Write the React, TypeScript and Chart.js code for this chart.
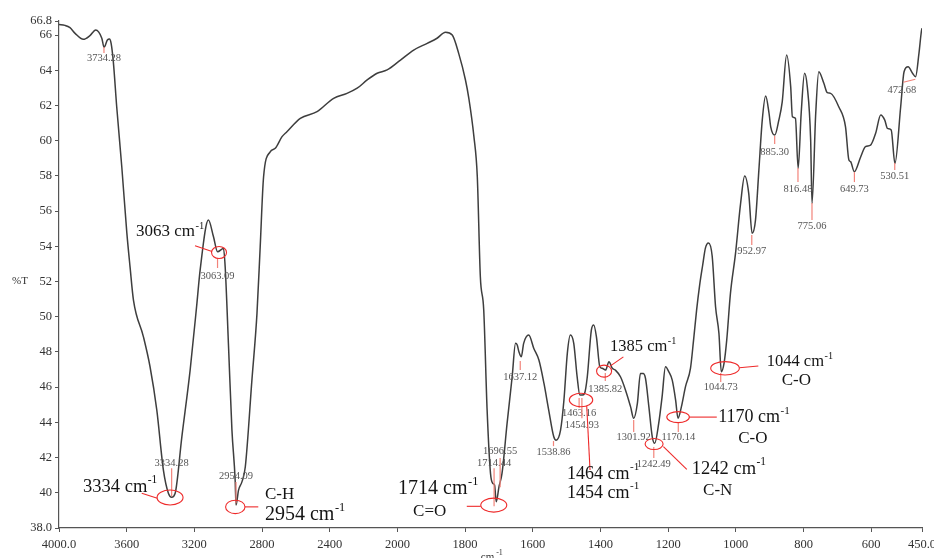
import React, { useEffect, useRef } from 'react';
import { Chart, registerables } from 'chart.js';

Chart.register(...registerables);

// ---- Data (wavenumber cm-1, %T) ----
const wavenumbers = [
  4000, 3965, 3935, 3905, 3856, 3817, 3783, 3747, 3734, 3714, 3702, 3692, 3679, 3659, 3629, 3599, 3580, 3560,
  3501, 3462, 3422, 3383, 3353, 3334, 3314, 3274, 3225, 3185, 3166, 3117, 3087, 3063, 3028, 3018, 2998, 2978,
  2959, 2954, 2939, 2919, 2899, 2860, 2830, 2811, 2791, 2752, 2722, 2682, 2653, 2574, 2475, 2377, 2298, 2238,
  2179, 2120, 2061, 1991, 1952, 1912, 1883, 1858, 1838, 1819, 1799, 1789, 1774, 1764, 1755, 1745, 1735, 1725,
  1718, 1713, 1708, 1700, 1691, 1676, 1661, 1651, 1646, 1641, 1634, 1627, 1612, 1597, 1582, 1567, 1553, 1538,
  1531, 1518, 1508, 1498, 1489, 1479, 1469, 1461, 1454, 1447, 1439, 1427, 1420, 1412, 1402, 1395, 1385, 1375,
  1365, 1356, 1341, 1326, 1311, 1302, 1291, 1282, 1274, 1267, 1257, 1247, 1240, 1228, 1218, 1208, 1198, 1188,
  1178, 1171, 1161, 1149, 1134, 1125, 1116, 1107, 1098, 1090, 1081, 1070, 1060, 1050, 1043, 1035, 1027, 1016,
  1001, 986, 974, 962, 952, 942, 932, 922, 912, 902, 897, 885, 873, 863, 850, 838, 833, 824, 816, 807, 797, 789,
  779, 775, 764, 755, 740, 730, 720, 696, 676, 666, 661, 650, 631, 617, 602, 587, 572, 560, 552, 541, 530, 513,
  503, 491, 478, 469, 459, 452, 450,
];
const transmittance = [
  66.6, 66.55, 66.42, 66.1, 65.76, 65.97, 66.29, 65.82, 65.31, 65.72, 65.78, 65.53, 64.49, 61.93, 58.52, 54.75, 52.82, 50.95,
  48.86, 47.16, 44.7, 41.29, 39.96, 39.75, 39.96, 43.18, 46.97, 50.76, 52.65, 55.49, 54.54, 53.69, 53.88, 52.84, 48.29, 43.56,
  40.72, 39.3, 40.15, 40.62, 41.48, 46.4, 50.19, 53.98, 57.95, 59.37, 59.57, 60.23, 60.51, 61.27, 61.65, 62.41, 62.69, 62.98,
  63.45, 63.83, 64.02, 64.58, 65.15, 65.53, 65.82, 66.16, 66.0, 64.96, 63.45, 62.41, 60.23, 57.95, 52.27, 50.38, 44.7, 41.1,
  40.53, 40.44, 39.49, 40.34, 41.1, 43.94, 46.59, 48.49, 48.39, 48.01, 47.73, 48.49, 48.96, 48.2, 47.54, 46.21, 44.7, 43.18,
  42.99, 43.56, 45.27, 47.92, 48.96, 48.49, 46.59, 45.55, 45.55, 45.65, 46.59, 49.24, 49.53, 48.86, 47.16, 47.07, 46.97, 47.44,
  47.07, 46.97, 46.59, 45.83, 44.88, 44.23, 45.08, 46.78, 46.78, 46.5, 44.88, 43.18, 42.81, 43.94, 45.45, 47.16, 46.87, 46.4,
  45.27, 44.23, 44.88, 46.02, 47.08, 48.67, 50.38, 51.8, 52.94, 53.9, 54.19, 53.45, 50.57, 49.05, 46.87, 47.35, 48.67, 51.33,
  53.6, 56.44, 57.99, 57.01, 54.74, 55.49, 58.33, 61.17, 62.54, 61.56, 60.79, 60.32, 61.17, 62.21, 64.87, 63.07, 61.36, 61.27, 58.43, 61.56, 63.83, 63.07,
  60.04, 56.44, 61.56, 63.92, 63.26, 62.73, 62.69, 61.93, 60.79, 58.9, 58.81, 58.24, 59.09, 59.66, 59.75, 60.42, 61.46, 61.17, 60.7, 60.61, 58.71, 61.93,
  63.92, 64.2, 63.83, 63.64, 64.96, 66.19, 66.39,
];

const xTickValues = [4000, 3600, 3200, 2800, 2400, 2000, 1800, 1600, 1400, 1200, 1000, 800, 600, 450];
const xTickLabels = ['4000.0', '3600', '3200', '2800', '2400', '2000', '1800', '1600', '1400', '1200', '1000', '800', '600', '450.0'];
const yTickValues = [38, 40, 42, 44, 46, 48, 50, 52, 54, 56, 58, 60, 62, 64, 66, 66.8];
const yTickLabels = ['38.0', '40', '42', '44', '46', '48', '50', '52', '54', '56', '58', '60', '62', '64', '66', '66.8'];

const peakWavenumbers = [3734.28, 3334.28, 3063.09, 2954.09, 1714.44, 1696.55, 1637.12, 1538.86, 1463.16, 1454.93, 1385.82,
  1301.92, 1242.49, 1170.14, 1044.73, 952.97, 885.30, 816.48, 775.06, 649.73, 530.51, 472.68];
const peakLabels = ['3734.28', '3334.28', '3063.09', '2954.09', '1714.44', '1696.55', '1637.12', '1538.86', '1463.16', '1454.93',
  '1385.82', '1301.92', '1242.49', '1170.14', '1044.73', '952.97', '885.30', '816.48', '775.06', '649.73', '530.51', '472.68'];

// layout of the small peak labels (in %T units), not data
const peakLabelLayout = [
  { from: 65.32, to: 64.98, text: 64.7 },
  { from: 41.4, to: 39.8, text: 41.69 },
  { from: 53.33, to: 52.77, text: 52.31 },
  { from: 40.61, to: 39.41, text: 40.95 },
  { from: 41.4, to: 39.24, text: 41.69 },
  { from: 41.97, to: 40.32, text: 42.37 },
  { from: 47.48, to: 46.97, text: 46.57 },
  { from: 42.94, to: 42.65, text: 42.31 },
  { from: 45.38, to: 44.81, text: 44.53 },
  { from: 45.38, to: 44.24, text: 43.84 },
  { from: 46.8, to: 46.35, text: 45.89 },
  { from: 44.13, to: 43.45, text: 43.16 },
  { from: 42.6, to: 41.97, text: 41.63 },
  { from: 43.96, to: 43.45, text: 43.16 },
  { from: 46.8, to: 46.29, text: 45.99 },
  { from: 54.64, to: 54.07, text: 53.73 },
  { from: 60.27, to: 59.81, text: 59.36 },
  { from: 58.45, to: 57.65, text: 57.25 },
  { from: 56.46, to: 55.49, text: 55.15 },
  { from: 58.22, to: 57.65, text: 57.25 },
  { from: 58.73, to: 58.33, text: 57.99 },
  { from: 63.32, to: 63.49, text: 62.88, dx1: -11, dx2: 1, tdx: -12.5 },
];

// band assignment callouts (anchor in data units, offsets in px)
const callouts = [
  { w: 3063.09, t: 53.65, ex: 1.5, rx: 7.5, ry: 6, line: [-22.5, -6.8, -5.5, -1], texts: [{ s: '3063', cm: true, dx: -81.5, dy: -20.5, size: 17 }] },
  { w: 3334.28, t: 39.73, ex: -1.6, rx: 13, ry: 7.5, line: [-29.9, -4.2, -14.3, 0.8], texts: [{ s: '3334', cm: true, dx: -88.6, dy: -10.5, size: 18.5 }] },
  { w: 2954.09, t: 39.2, ex: -0.7, rx: 9.7, ry: 6.7, line: [9, 0, 22.3, 0], texts: [{ s: 'C-H', dx: 29, dy: -12.7, size: 17 }, { s: '2954', cm: true, dx: 29, dy: 8.3, size: 20 }] },
  { w: 1714.44, t: 39.3, ex: -0.3, rx: 13, ry: 7, line: [-27.3, 1.2, -13.3, 1.2], texts: [{ s: '1714', cm: true, dx: -96, dy: -16, size: 20 }, { s: 'C=O', dx: -81, dy: 6, size: 17 }] },
  { w: 1459, t: 45.27, ex: 0.5, rx: 11.7, ry: 6.7, line: [6.2, 6, 9.5, 70], texts: [{ s: '1464', cm: true, dx: -13.5, dy: 74, size: 18 }, { s: '1454', cm: true, dx: -13.5, dy: 93, size: 18 }] },
  { w: 1385.82, t: 46.91, ex: -1.2, rx: 7.5, ry: 6, line: [4.8, -5, 18.1, -14.3], texts: [{ s: '1385', cm: true, dx: 4.8, dy: -24, size: 16.5 }] },
  { w: 1242.49, t: 42.77, ex: 0.3, rx: 9, ry: 5.5, line: [9.6, 2.7, 33, 25.3], texts: [{ s: '1242', cm: true, dx: 38, dy: 25, size: 18.5 }, { s: 'C-N', dx: 49.3, dy: 47, size: 17 }] },
  { w: 1170.14, t: 44.3, ex: -0.2, rx: 11.3, ry: 5.5, line: [11.1, 0, 38.5, 0], texts: [{ s: '1170', cm: true, dx: 40, dy: 0, size: 18 }, { s: 'C-O', dx: 60, dy: 21, size: 17 }] },
  { w: 1044.73, t: 47.07, ex: 4.3, rx: 14.3, ry: 6.7, line: [18.6, -0.6, 37.6, -2.3], texts: [{ s: '1044', cm: true, dx: 46, dy: -6.3, size: 16.5 }, { s: 'C-O', dx: 61, dy: 12.7, size: 17 }] },
];

// split wavenumber axis: 4000-2000 compressed 2x relative to 2000-450
const toU = (w: number) => (w >= 2000 ? (4000 - w) / 2 : 1000 + (2000 - w));

const SERIF = '"Liberation Serif", "Times New Roman", serif';

const annotate = {
  id: 'annotate',
  afterDraw(chart: any) {
    const { ctx, scales } = chart;
    const xs = scales.x;
    const ys = scales.y;
    const px = (w: number) => xs.getPixelForValue(toU(w));
    const py = (t: number) => ys.getPixelForValue(t);
    ctx.save();

    // small peak labels
    ctx.textAlign = 'center';
    ctx.textBaseline = 'middle';
    ctx.font = `10.5px ${SERIF}`;
    peakWavenumbers.forEach((w, i) => {
      const L: any = peakLabelLayout[i];
      const cx = px(w);
      ctx.strokeStyle = '#f2837a';
      ctx.lineWidth = 1.2;
      ctx.beginPath();
      ctx.moveTo(cx + (L.dx1 || 0), py(L.from));
      ctx.lineTo(cx + (L.dx2 || 0), py(L.to));
      ctx.stroke();
      ctx.fillStyle = '#555';
      ctx.fillText(peakLabels[i], cx + (L.tdx || 0), py(L.text));
    });

    // callouts
    callouts.forEach((c) => {
      const ax = px(c.w);
      const ay = py(c.t);
      ctx.strokeStyle = '#ee2a2a';
      ctx.lineWidth = 1.1;
      ctx.beginPath();
      ctx.ellipse(ax + c.ex, ay, c.rx, c.ry, 0, 0, Math.PI * 2);
      ctx.stroke();
      ctx.beginPath();
      ctx.moveTo(ax + c.line[0], ay + c.line[1]);
      ctx.lineTo(ax + c.line[2], ay + c.line[3]);
      ctx.stroke();
      ctx.fillStyle = '#141414';
      ctx.textAlign = 'left';
      ctx.textBaseline = 'middle';
      c.texts.forEach((t: any) => {
        const tx = ax + t.dx;
        const ty = ay + t.dy;
        ctx.font = `${t.size}px ${SERIF}`;
        const main = t.cm ? `${t.s} cm` : t.s;
        ctx.fillText(main, tx, ty);
        if (t.cm) {
          const wMain = ctx.measureText(main).width;
          ctx.font = `${t.size * 0.62}px ${SERIF}`;
          ctx.fillText('-1', tx + wMain + 0.5, ty - t.size * 0.36);
        }
      });
    });

    // axis titles
    ctx.fillStyle = '#333';
    ctx.font = `11px ${SERIF}`;
    ctx.textAlign = 'left';
    ctx.textBaseline = 'middle';
    ctx.fillText('%T', 12, py(52));
    ctx.textAlign = 'center';
    ctx.textBaseline = 'top';
    const midX = (chart.chartArea.left + chart.chartArea.right) / 2;
    ctx.fillText('cm', midX - 3, 552);
    ctx.font = `8px ${SERIF}`;
    ctx.fillText('-1', midX + 9, 549);
    ctx.restore();
  },
};

export default function App() {
  const ref = useRef<HTMLCanvasElement | null>(null);
  useEffect(() => {
    if (!ref.current) return;
    const data = wavenumbers.map((w, i) => ({ x: toU(w), y: transmittance[i] }));
    const tickFont = { family: SERIF, size: 12.5 };
    const chart = new Chart(ref.current, {
      type: 'line',
      data: {
        datasets: [
          {
            data,
            borderColor: '#3e3e3e',
            borderWidth: 1.5,
            pointRadius: 0,
            cubicInterpolationMode: 'monotone',
            fill: false,
          } as any,
        ],
      },
      options: {
        responsive: false,
        animation: false,
        devicePixelRatio: 1,
        layout: { padding: { left: 0, right: 12, top: 21, bottom: 0 } },
        plugins: { legend: { display: false }, tooltip: { enabled: false } },
        scales: {
          x: {
            type: 'linear',
            min: 0,
            max: 2550,
            afterBuildTicks: (s: any) => {
              s.ticks = xTickValues.map((w) => ({ value: toU(w) }));
            },
            afterFit: (s: any) => {
              s.height = 30;
              s.paddingLeft = 0;
              s.paddingRight = 0;
            },
            ticks: {
              autoSkip: false,
              maxRotation: 0,
              minRotation: 0,
              padding: 5,
              color: '#333',
              font: tickFont,
              callback: (_v: any, i: number) => xTickLabels[i],
            },
            grid: { drawOnChartArea: false, tickLength: 4, color: '#555' },
            border: { display: true, color: '#555', width: 1.2 },
          },
          y: {
            type: 'linear',
            min: 38,
            max: 66.8,
            afterBuildTicks: (s: any) => {
              s.ticks = yTickValues.map((v) => ({ value: v }));
            },
            afterFit: (s: any) => {
              s.width = 59;
              s.paddingTop = 0;
              s.paddingBottom = 0;
            },
            ticks: {
              autoSkip: false,
              padding: 3,
              color: '#333',
              font: tickFont,
              callback: (_v: any, i: number) => yTickLabels[i],
            },
            grid: { drawOnChartArea: false, tickLength: 4, color: '#555' },
            border: { display: true, color: '#555', width: 1.2 },
          },
        },
      } as any,
      plugins: [annotate],
    });
    return () => chart.destroy();
  }, []);

  return (
    <div style={{ position: 'fixed', left: 0, top: 0, width: 934, height: 558, background: '#fff' }}>
      <canvas ref={ref} width={934} height={558} style={{ display: 'block', width: 934, height: 558 }} />
    </div>
  );
}
